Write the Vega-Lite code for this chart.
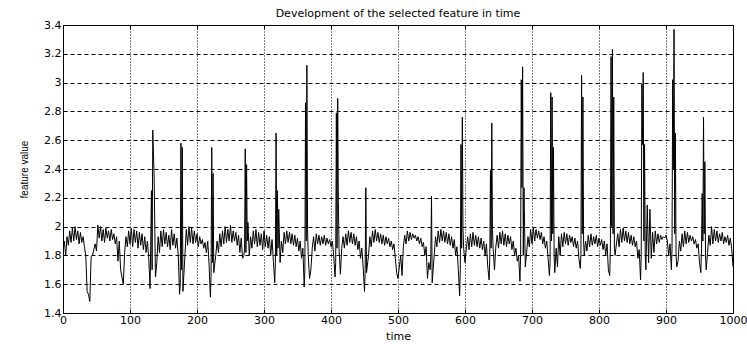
{
"$schema": "https://vega.github.io/schema/vega-lite/v6.json",
"width": 670, "height": 288,
"autosize": "none",
"padding": {"left": 63, "top": 25, "right": 14, "bottom": 31},
"background": "white",
"config": {"view": {"stroke": "black", "strokeWidth": 1}, "font": "DejaVu Sans"},
"title": {"text": "Development of the selected feature in time", "fontSize": 11, "fontWeight": "normal", "color": "black", "offset": 0, "font": "DejaVu Sans"},
"datasets": {"series": [
{"t":0,"v":1.84},{"t":2,"v":1.90},{"t":4,"v":1.80},{"t":6,"v":1.93},{"t":8,"v":1.87},{"t":10,"v":1.97},{"t":12,"v":1.89},{"t":14,"v":1.99},{"t":16,"v":1.90},{"t":18,"v":2.00},{"t":20,"v":1.91},{"t":22,"v":1.97},{"t":24,"v":1.88},{"t":26,"v":1.96},{"t":28,"v":1.89},{"t":30,"v":1.93},
{"t":32,"v":1.86},{"t":34,"v":1.80},{"t":36,"v":1.55},{"t":38,"v":1.53},{"t":40,"v":1.48},{"t":42,"v":1.79},{"t":44,"v":1.80},{"t":46,"v":1.84},{"t":48,"v":1.88},{"t":50,"v":1.83},
{"t":52,"v":2.01},{"t":54,"v":1.92},{"t":56,"v":2.00},{"t":58,"v":1.90},{"t":60,"v":1.98},{"t":62,"v":1.89},{"t":64,"v":1.99},{"t":66,"v":1.92},{"t":68,"v":1.97},{"t":70,"v":1.90},{"t":72,"v":1.98},{"t":74,"v":1.91},{"t":76,"v":1.95},{"t":78,"v":1.88},{"t":80,"v":1.93},
{"t":82,"v":1.76},{"t":84,"v":1.90},{"t":86,"v":1.70},{"t":88,"v":1.65},{"t":90,"v":1.60},{"t":92,"v":1.82},
{"t":94,"v":1.93},{"t":96,"v":1.86},{"t":98,"v":1.97},{"t":100,"v":1.88},{"t":102,"v":1.99},{"t":104,"v":1.86},{"t":106,"v":1.98},{"t":108,"v":1.89},{"t":110,"v":1.97},{"t":112,"v":1.85},{"t":114,"v":1.96},{"t":116,"v":1.87},{"t":118,"v":1.95},{"t":120,"v":1.84},{"t":122,"v":1.93},{"t":124,"v":1.82},{"t":126,"v":1.90},{"t":128,"v":1.78},
{"t":130,"v":1.57},{"t":132,"v":2.25},{"t":133,"v":1.70},{"t":134,"v":2.67},{"t":136,"v":2.35},{"t":138,"v":1.65},{"t":140,"v":1.75},{"t":142,"v":1.93},{"t":144,"v":1.82},{"t":146,"v":1.97},{"t":148,"v":1.86},{"t":150,"v":1.98},
{"t":152,"v":1.88},{"t":154,"v":1.96},{"t":156,"v":1.86},{"t":158,"v":1.94},{"t":160,"v":1.84},{"t":162,"v":1.98},{"t":164,"v":1.87},{"t":166,"v":1.95},{"t":168,"v":1.85},{"t":170,"v":1.92},{"t":172,"v":1.80},
{"t":174,"v":1.53},{"t":175,"v":1.60},{"t":176,"v":2.58},{"t":177,"v":1.70},{"t":178,"v":2.55},{"t":179,"v":1.55},{"t":182,"v":1.80},{"t":184,"v":1.98},{"t":186,"v":1.87},{"t":188,"v":2.00},{"t":190,"v":1.89},{"t":192,"v":1.99},{"t":194,"v":1.88},{"t":196,"v":1.97},{"t":198,"v":1.89},{"t":200,"v":1.95},{"t":202,"v":1.86},{"t":204,"v":1.93},{"t":206,"v":1.88},{"t":208,"v":1.91},{"t":210,"v":1.85},{"t":212,"v":1.89},{"t":214,"v":1.82},{"t":216,"v":1.90},{"t":218,"v":1.74},
{"t":220,"v":1.51},{"t":221,"v":1.66},{"t":222,"v":2.55},{"t":223,"v":1.75},{"t":224,"v":2.37},{"t":225,"v":1.68},{"t":228,"v":1.80},{"t":230,"v":1.90},{"t":232,"v":1.82},{"t":234,"v":1.95},{"t":236,"v":1.86},{"t":238,"v":1.97},{"t":240,"v":1.88},{"t":242,"v":2.00},{"t":244,"v":1.89},{"t":246,"v":1.98},{"t":248,"v":1.90},{"t":250,"v":2.01},{"t":252,"v":1.89},{"t":254,"v":1.97},{"t":256,"v":1.90},{"t":258,"v":1.96},{"t":260,"v":1.87},{"t":262,"v":1.94},{"t":264,"v":1.82},{"t":266,"v":1.92},{"t":268,"v":1.78},
{"t":270,"v":1.80},{"t":271,"v":1.85},{"t":272,"v":2.54},{"t":273,"v":1.82},{"t":274,"v":2.43},{"t":275,"v":1.90},{"t":276,"v":2.03},{"t":278,"v":1.80},{"t":280,"v":1.93},{"t":282,"v":1.85},{"t":284,"v":1.97},{"t":286,"v":1.88},{"t":288,"v":1.98},{"t":290,"v":1.86},{"t":292,"v":1.96},{"t":294,"v":1.87},{"t":296,"v":1.95},{"t":298,"v":1.84},{"t":300,"v":1.97},{"t":302,"v":1.86},{"t":304,"v":1.94},{"t":306,"v":1.85},{"t":308,"v":1.93},{"t":310,"v":1.80},{"t":312,"v":1.91},{"t":314,"v":1.76},
{"t":316,"v":1.61},{"t":317,"v":1.75},{"t":318,"v":2.65},{"t":319,"v":1.80},{"t":320,"v":2.25},{"t":321,"v":1.85},{"t":322,"v":2.12},{"t":324,"v":1.75},{"t":326,"v":1.90},{"t":328,"v":1.82},{"t":330,"v":1.96},{"t":332,"v":1.88},{"t":334,"v":1.97},{"t":336,"v":1.89},{"t":338,"v":1.96},{"t":340,"v":1.88},{"t":342,"v":1.95},{"t":344,"v":1.87},{"t":346,"v":1.94},{"t":348,"v":1.86},{"t":350,"v":1.92},{"t":352,"v":1.83},{"t":354,"v":1.90},{"t":356,"v":1.78},{"t":358,"v":1.85},
{"t":360,"v":1.58},{"t":361,"v":1.70},{"t":362,"v":2.86},{"t":363,"v":1.90},{"t":364,"v":3.12},{"t":365,"v":1.98},{"t":366,"v":1.80},{"t":368,"v":1.64},{"t":370,"v":1.70},{"t":372,"v":1.85},{"t":374,"v":1.93},{"t":376,"v":1.83},{"t":378,"v":1.95},{"t":380,"v":1.88},{"t":382,"v":1.94},{"t":384,"v":1.87},{"t":386,"v":1.93},{"t":388,"v":1.88},{"t":390,"v":1.94},{"t":392,"v":1.87},{"t":394,"v":1.92},{"t":396,"v":1.88},{"t":398,"v":1.91},{"t":400,"v":1.86},{"t":402,"v":1.90},{"t":404,"v":1.80},
{"t":406,"v":1.65},{"t":407,"v":1.75},{"t":408,"v":2.79},{"t":409,"v":1.85},{"t":410,"v":2.89},{"t":411,"v":2.18},{"t":412,"v":1.85},{"t":414,"v":1.67},{"t":416,"v":1.85},{"t":418,"v":1.93},{"t":420,"v":1.85},{"t":422,"v":1.95},{"t":424,"v":1.87},{"t":426,"v":1.97},{"t":428,"v":1.89},{"t":430,"v":1.96},{"t":432,"v":1.88},{"t":434,"v":1.95},{"t":436,"v":1.87},{"t":438,"v":1.93},{"t":440,"v":1.84},{"t":442,"v":1.90},{"t":444,"v":1.78},{"t":446,"v":1.85},{"t":448,"v":1.72},
{"t":450,"v":1.55},{"t":451,"v":1.70},{"t":452,"v":2.27},{"t":453,"v":1.68},{"t":456,"v":1.80},{"t":458,"v":1.93},{"t":460,"v":1.86},{"t":462,"v":1.97},{"t":464,"v":1.89},{"t":466,"v":1.98},{"t":468,"v":1.90},{"t":470,"v":1.96},{"t":472,"v":1.89},{"t":474,"v":1.95},{"t":476,"v":1.88},{"t":478,"v":1.94},{"t":480,"v":1.87},{"t":482,"v":1.93},{"t":484,"v":1.88},{"t":486,"v":1.92},{"t":488,"v":1.86},{"t":490,"v":1.90},{"t":492,"v":1.84},{"t":494,"v":1.88},{"t":496,"v":1.78},{"t":498,"v":1.68},
{"t":500,"v":1.64},{"t":502,"v":1.72},{"t":504,"v":1.80},{"t":506,"v":1.66},{"t":508,"v":1.86},{"t":510,"v":1.94},{"t":512,"v":1.88},{"t":514,"v":1.97},{"t":516,"v":1.90},{"t":518,"v":1.96},{"t":520,"v":1.91},{"t":522,"v":1.95},{"t":524,"v":1.92},{"t":526,"v":1.94},{"t":528,"v":1.90},{"t":530,"v":1.93},{"t":532,"v":1.88},{"t":534,"v":1.92},{"t":536,"v":1.86},{"t":538,"v":1.89},{"t":540,"v":1.80},{"t":542,"v":1.86},{"t":544,"v":1.64},
{"t":546,"v":1.75},{"t":548,"v":1.70},{"t":549,"v":1.80},{"t":550,"v":2.21},{"t":551,"v":1.61},{"t":554,"v":1.80},{"t":556,"v":1.93},{"t":558,"v":1.86},{"t":560,"v":1.97},{"t":562,"v":1.89},{"t":564,"v":1.98},{"t":566,"v":1.90},{"t":568,"v":1.97},{"t":570,"v":1.89},{"t":572,"v":1.96},{"t":574,"v":1.88},{"t":576,"v":1.95},{"t":578,"v":1.87},{"t":580,"v":1.93},{"t":582,"v":1.85},{"t":584,"v":1.91},{"t":586,"v":1.80},{"t":588,"v":1.86},{"t":590,"v":1.70},
{"t":592,"v":1.52},{"t":593,"v":1.70},{"t":594,"v":2.57},{"t":595,"v":1.85},{"t":596,"v":2.76},{"t":597,"v":1.98},{"t":598,"v":1.85},{"t":600,"v":1.75},{"t":602,"v":1.85},{"t":604,"v":1.93},{"t":606,"v":1.84},{"t":608,"v":1.95},{"t":610,"v":1.86},{"t":612,"v":1.96},{"t":614,"v":1.87},{"t":616,"v":1.94},{"t":618,"v":1.86},{"t":620,"v":1.93},{"t":622,"v":1.85},{"t":624,"v":1.92},{"t":626,"v":1.84},{"t":628,"v":1.90},{"t":630,"v":1.80},{"t":632,"v":1.88},{"t":634,"v":1.72},
{"t":636,"v":1.63},{"t":637,"v":1.78},{"t":638,"v":2.39},{"t":639,"v":1.85},{"t":640,"v":2.72},{"t":641,"v":1.98},{"t":642,"v":1.85},{"t":644,"v":1.70},{"t":646,"v":1.86},{"t":648,"v":1.94},{"t":650,"v":1.85},{"t":652,"v":1.96},{"t":654,"v":1.88},{"t":656,"v":1.97},{"t":658,"v":1.87},{"t":660,"v":1.95},{"t":662,"v":1.86},{"t":664,"v":1.94},{"t":666,"v":1.88},{"t":668,"v":1.93},{"t":670,"v":1.84},{"t":672,"v":1.90},{"t":674,"v":1.80},{"t":676,"v":1.85},{"t":678,"v":1.76},{"t":680,"v":1.80},
{"t":682,"v":1.62},{"t":683,"v":1.80},{"t":684,"v":3.02},{"t":685,"v":2.27},{"t":686,"v":3.11},{"t":687,"v":1.80},{"t":688,"v":2.27},{"t":690,"v":1.72},{"t":692,"v":1.82},{"t":694,"v":1.93},{"t":696,"v":1.86},{"t":698,"v":1.98},{"t":700,"v":1.88},{"t":702,"v":1.99},{"t":704,"v":1.90},{"t":706,"v":1.98},{"t":708,"v":1.92},{"t":710,"v":1.97},{"t":712,"v":1.91},{"t":714,"v":1.96},{"t":716,"v":1.88},{"t":718,"v":1.93},{"t":720,"v":1.85},{"t":722,"v":1.90},{"t":724,"v":1.78},{"t":726,"v":1.66},
{"t":727,"v":1.75},{"t":728,"v":2.93},{"t":729,"v":1.90},{"t":730,"v":2.90},{"t":731,"v":1.95},{"t":732,"v":2.55},{"t":733,"v":1.80},{"t":734,"v":1.68},{"t":736,"v":1.85},{"t":738,"v":1.72},{"t":740,"v":1.93},{"t":742,"v":1.80},{"t":744,"v":1.95},{"t":746,"v":1.86},{"t":748,"v":1.96},{"t":750,"v":1.88},{"t":752,"v":1.95},{"t":754,"v":1.87},{"t":756,"v":1.94},{"t":758,"v":1.89},{"t":760,"v":1.93},{"t":762,"v":1.86},{"t":764,"v":1.92},{"t":766,"v":1.85},{"t":768,"v":1.90},{"t":770,"v":1.78},{"t":772,"v":1.71},
{"t":773,"v":1.80},{"t":774,"v":3.05},{"t":775,"v":1.95},{"t":776,"v":2.90},{"t":777,"v":1.90},{"t":778,"v":1.80},{"t":780,"v":1.90},{"t":782,"v":1.83},{"t":784,"v":1.94},{"t":786,"v":1.86},{"t":788,"v":1.95},{"t":790,"v":1.87},{"t":792,"v":1.93},{"t":794,"v":1.88},{"t":796,"v":1.94},{"t":798,"v":1.86},{"t":800,"v":1.92},{"t":802,"v":1.87},{"t":804,"v":1.91},{"t":806,"v":1.84},{"t":808,"v":1.90},{"t":810,"v":1.80},{"t":812,"v":1.88},{"t":814,"v":1.70},{"t":816,"v":1.66},
{"t":817,"v":1.85},{"t":818,"v":3.18},{"t":819,"v":2.00},{"t":820,"v":3.23},{"t":821,"v":1.95},{"t":822,"v":2.90},{"t":823,"v":1.85},{"t":824,"v":1.80},{"t":826,"v":1.88},{"t":828,"v":1.95},{"t":830,"v":1.86},{"t":832,"v":1.98},{"t":834,"v":1.89},{"t":836,"v":1.99},{"t":838,"v":1.90},{"t":840,"v":1.97},{"t":842,"v":1.89},{"t":844,"v":1.96},{"t":846,"v":1.88},{"t":848,"v":1.94},{"t":850,"v":1.87},{"t":852,"v":1.93},{"t":854,"v":1.86},{"t":856,"v":1.90},{"t":858,"v":1.78},{"t":860,"v":1.84},{"t":862,"v":1.63},
{"t":863,"v":1.80},{"t":864,"v":2.99},{"t":865,"v":2.57},{"t":866,"v":3.07},{"t":867,"v":1.90},{"t":868,"v":2.57},{"t":869,"v":1.80},{"t":870,"v":1.70},{"t":872,"v":2.15},{"t":874,"v":1.75},{"t":876,"v":2.12},{"t":878,"v":1.78},{"t":880,"v":1.96},{"t":882,"v":1.82},{"t":884,"v":1.97},{"t":886,"v":1.88},{"t":888,"v":1.95},{"t":890,"v":1.89},{"t":892,"v":1.94},{"t":894,"v":1.91},{"t":896,"v":1.93},{"t":898,"v":1.92},{"t":900,"v":1.94},{"t":902,"v":1.90},{"t":904,"v":1.80},{"t":906,"v":1.88},
{"t":908,"v":1.70},{"t":909,"v":1.85},{"t":910,"v":3.02},{"t":911,"v":2.40},{"t":912,"v":3.37},{"t":913,"v":1.95},{"t":914,"v":2.65},{"t":915,"v":1.80},{"t":916,"v":1.72},{"t":918,"v":1.76},{"t":920,"v":1.90},{"t":922,"v":1.83},{"t":924,"v":1.95},{"t":926,"v":1.86},{"t":928,"v":1.97},{"t":930,"v":1.88},{"t":932,"v":1.96},{"t":934,"v":1.89},{"t":936,"v":1.94},{"t":938,"v":1.90},{"t":940,"v":1.93},{"t":942,"v":1.88},{"t":944,"v":1.91},{"t":946,"v":1.85},{"t":948,"v":1.88},{"t":950,"v":1.75},{"t":952,"v":1.68},
{"t":953,"v":1.85},{"t":954,"v":2.23},{"t":955,"v":1.90},{"t":956,"v":2.76},{"t":957,"v":1.95},{"t":958,"v":2.45},{"t":959,"v":1.80},{"t":960,"v":1.70},{"t":962,"v":1.82},{"t":964,"v":1.94},{"t":966,"v":1.87},{"t":968,"v":2.00},{"t":970,"v":1.88},{"t":972,"v":1.98},{"t":974,"v":1.90},{"t":976,"v":1.97},{"t":978,"v":1.89},{"t":980,"v":1.95},{"t":982,"v":1.90},{"t":984,"v":1.96},{"t":986,"v":1.88},{"t":988,"v":1.93},{"t":990,"v":1.89},{"t":992,"v":1.94},{"t":994,"v":1.87},{"t":996,"v":1.92},{"t":998,"v":1.85},{"t":1000,"v":1.72}
]},
"data": {"name": "series"},
"layer": [
  {
    "mark": {"type": "line", "color": "black", "strokeWidth": 1, "clip": true},
    "encoding": {
      "x": {"field": "t", "type": "quantitative",
            "scale": {"domain": [0, 1000], "nice": false, "zero": false},
            "axis": {"values": [0,100,200,300,400,500,600,700,800,900,1000], "format": "d", "title": "time", "titleFont": "DejaVu Sans", "titleFontSize": 11, "titleFontWeight": "normal", "titleColor": "black", "titlePadding": 5, "labelFont": "DejaVu Sans", "labelFontSize": 11, "labelColor": "black", "labelPadding": 5, "ticks": true, "tickSize": -4, "tickColor": "black", "domain": false, "grid": true, "gridColor": "black", "gridDash": [1, 2], "gridOpacity": 1, "gridWidth": 1, "labelFlush": false}},
      "y": {"field": "v", "type": "quantitative",
            "scale": {"domain": [1.4, 3.4], "nice": false, "zero": false},
            "axis": {"values": [1.4,1.6,1.8,2,2.2,2.4,2.6,2.8,3,3.2,3.4], "format": "~g", "title": "feature value", "titleFont": "Liberation Sans", "titleFontSize": 10, "titleFontWeight": "normal", "titleColor": "black", "titlePadding": 14, "labelFont": "DejaVu Sans", "labelFontSize": 11, "labelColor": "black", "labelPadding": 6, "ticks": true, "tickSize": -4, "tickColor": "black", "domain": false, "grid": true, "gridColor": "black", "gridDash": [4, 3], "gridOpacity": 1, "gridWidth": 1, "labelFlush": false}}
    }
  },
  {
    "mark": {"type": "line", "strokeOpacity": 0},
    "encoding": {
      "x": {"field": "t", "type": "quantitative",
            "scale": {"domain": [0, 1000], "nice": false, "zero": false},
            "axis": {"orient": "top", "values": [0,100,200,300,400,500,600,700,800,900,1000], "labels": false, "title": null, "ticks": true, "tickSize": -4, "tickColor": "black", "domain": false, "grid": false}},
      "y": {"field": "v", "type": "quantitative",
            "scale": {"domain": [1.4, 3.4], "nice": false, "zero": false},
            "axis": {"orient": "right", "values": [1.4,1.6,1.8,2,2.2,2.4,2.6,2.8,3,3.2,3.4], "labels": false, "title": null, "ticks": true, "tickSize": -4, "tickColor": "black", "domain": false, "grid": false}}
    }
  }
],
"resolve": {"axis": {"x": "independent", "y": "independent"}}
}
